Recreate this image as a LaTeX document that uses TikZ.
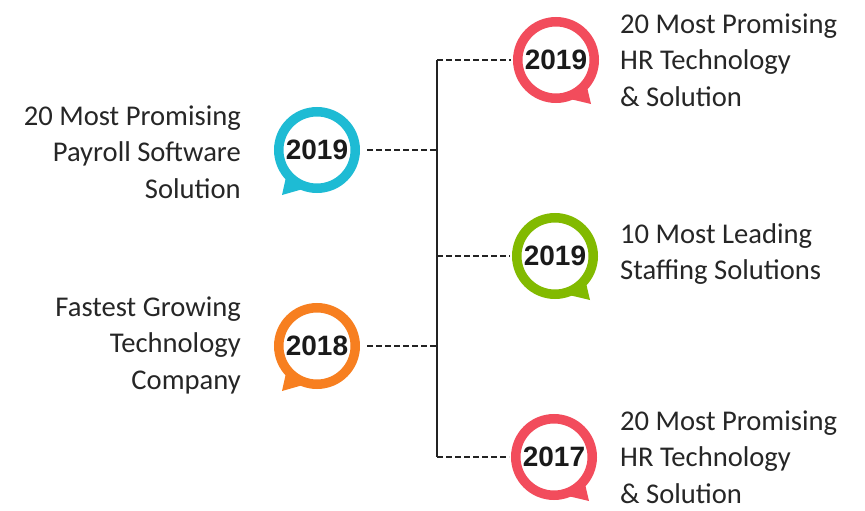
\documentclass[tikz,border=0pt]{standalone}
\usepackage{fontspec}
\setmainfont{Carlito}
\newfontfamily\yearfont{Liberation Sans}
\definecolor{ccyan}{RGB}{30,187,212}
\definecolor{cred}{RGB}{242,76,92}
\definecolor{cgreen}{RGB}{130,186,0}
\definecolor{corange}{RGB}{247,127,32}
\definecolor{cline}{RGB}{35,35,35}
\definecolor{ctext}{RGB}{26,26,26}
\tikzset{
  bubble/.style={circle, draw=#1, line width=9.5pt, minimum size=76.5pt, inner sep=0pt, fill=white,
    font=\yearfont\bfseries\fontsize{28}{30}\selectfont, text=ctext},
  label/.style={font=\fontsize{28.6}{36.5}\selectfont, text=black!85, inner sep=0pt},
  dashline/.style={draw=cline, line width=2.4pt, dash pattern=on 6pt off 3pt},
  trunkline/.style={draw=cline, line width=2pt},
}
\begin{document}
\begin{tikzpicture}[x=1pt,y=-1pt]
\useasboundingbox (0,0) rectangle (865,511);
% bubbles
\node[bubble=ccyan] (b1) at (317,150) {2019};
\node[bubble=corange] (b2) at (317,346) {2018};
\node[bubble=cred] (b3) at (556,60) {2019};
\node[bubble=cgreen] (b4) at (555,256) {2019};
\node[bubble=cred] (b5) at (554,457) {2017};
% tails
\fill[ccyan] ([shift={(-31,27)}]b1.center) -- ([shift={(-35,45)}]b1.center) -- ([shift={(-14,39)}]b1.center) -- cycle;
\fill[corange] ([shift={(-31,27)}]b2.center) -- ([shift={(-35,45)}]b2.center) -- ([shift={(-14,39)}]b2.center) -- cycle;
\fill[cred] ([shift={(31,27)}]b3.center) -- ([shift={(35,44)}]b3.center) -- ([shift={(14,39)}]b3.center) -- cycle;
\fill[cgreen] ([shift={(31,27)}]b4.center) -- ([shift={(35,44)}]b4.center) -- ([shift={(14,39)}]b4.center) -- cycle;
\fill[cred] ([shift={(31,27)}]b5.center) -- ([shift={(35,44)}]b5.center) -- ([shift={(14,39)}]b5.center) -- cycle;
% trunk
\coordinate (ttop) at (437,60);
\coordinate (tbot) at (437,457);
\draw[trunkline] (ttop) -- (tbot);
% connectors
\draw[dashline] ([xshift=7pt]b1.east) -- (b1 -| ttop);
\draw[dashline] ([xshift=7pt]b2.east) -- (b2 -| ttop);
\draw[dashline] (b3 -| ttop) -- ([xshift=-2pt]b3.west);
\draw[dashline] (b4 -| ttop) -- ([xshift=-2pt]b4.west);
\draw[dashline] (b5 -| ttop) -- ([xshift=-2pt]b5.west);
% labels
\node[label, anchor=east, align=right] (l1) at (241,152) {20 Most Promising\\Payroll Software\\Solution};
\node[label, anchor=east, align=right] (l2) at (241,345) {Fastest Growing\\Technology\\Company};
\node[label, anchor=west, align=left] (l3) at (620,60) {20 Most Promising\\HR Technology\\\& Solution};
\node[label, anchor=west, align=left] (l4) at (620,254) {10 Most Leading\\Staffing Solutions};
\node[label, anchor=west, align=left] (l5) at (620,457) {20 Most Promising\\HR Technology\\\& Solution};
\end{tikzpicture}
\end{document}
